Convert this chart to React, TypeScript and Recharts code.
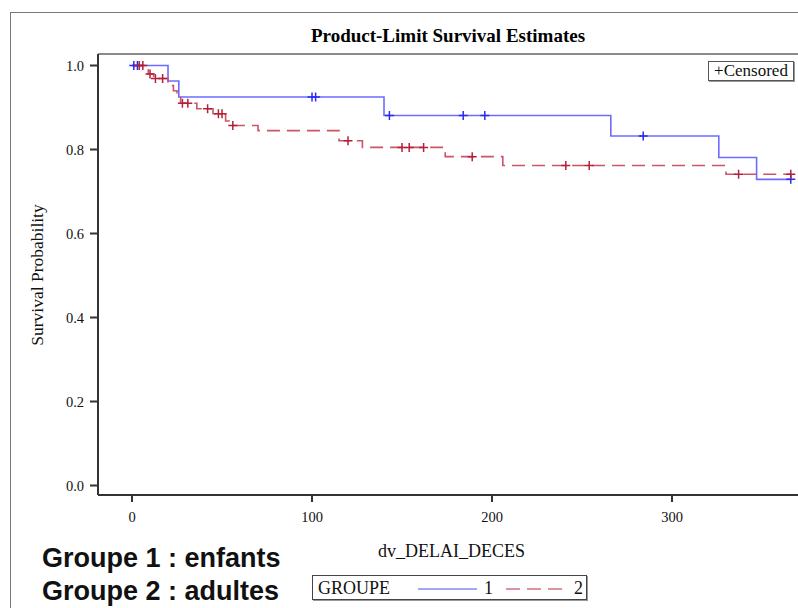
import React from 'react';
import { ComposedChart, Line, Scatter, XAxis, YAxis, ReferenceLine } from 'recharts';

// Kaplan-Meier steps: time (days) and survival at that time
const G1_TIMES = [0, 20, 26, 140, 266, 326, 347, 366];
const G1_SURV = [1.0, 0.963, 0.925, 0.881, 0.832, 0.781, 0.729, 0.729];
const G1_CENSORED = [1, 3, 100, 102, 143, 184, 196, 284, 366];

const G2_TIMES = [0, 7, 9, 12, 20, 23, 25, 27, 36, 45, 52, 54, 70, 115, 128, 174, 206, 330, 366];
const G2_SURV = [1.0, 0.99, 0.98, 0.969, 0.952, 0.94, 0.925, 0.91, 0.897, 0.885, 0.868, 0.857, 0.845, 0.821, 0.805, 0.783, 0.762, 0.741, 0.741];
const G2_CENSORED = [4, 6, 10, 13, 17, 28, 31, 42, 48, 50, 56, 120, 150, 154, 162, 189, 241, 254, 337, 366];

const X_TICKS = [0, 100, 200, 300];
const Y_TICKS = [0, 0.2, 0.4, 0.6, 0.8, 1.0];

const BLUE = '#6c6cff';
const BLUE_MARK = '#2b2bf0';
const RED = '#cc5566';
const RED_MARK = '#b3203a';
const SERIF = '"Liberation Serif", "DejaVu Serif", serif';

const X_MIN = -18.9;
const X_MAX = 374;
const Y_MIN = -0.0226;
const Y_MAX = 1.0274;

const steps = (times: number[], surv: number[]) => times.map((t, i) => ({ t, s: surv[i] }));

// survival value at a censoring time = value of the last step at or before it
const onCurve = (times: number[], surv: number[], cens: number[]) =>
  cens.map((t) => {
    let s = surv[0];
    times.forEach((tt, i) => {
      if (tt <= t) s = surv[i];
    });
    return { t, s };
  });

const g1 = steps(G1_TIMES, G1_SURV);
const g2 = steps(G2_TIMES, G2_SURV);
const g1c = onCurve(G1_TIMES, G1_SURV, G1_CENSORED);
const g2c = onCurve(G2_TIMES, G2_SURV, G2_CENSORED);

const plus = (color: string) => (props: any) => {
  const { cx, cy } = props;
  if (cx == null || cy == null) return <g />;
  return <path d={`M${cx - 4.5},${cy}h9M${cx},${cy - 4.5}v9`} stroke={color} strokeWidth={1.5} fill="none" />;
};

const tickStyle = { fontFamily: SERIF, fontSize: 14.5, fill: '#111' };

const App: React.FC = () => {
  return (
    <div style={{ position: 'absolute', left: 0, top: 0, width: 798, height: 608, overflow: 'hidden', background: '#fff' }}>
      <div style={{ position: 'absolute', left: 10, top: 12, width: 900, height: 700, border: '1px solid #777' }} />
      <div
        style={{
          position: 'absolute', left: 98, width: 700, top: 25, textAlign: 'center',
          fontFamily: SERIF, fontWeight: 'bold', fontSize: 19, lineHeight: '22px', color: '#000',
        }}
      >
        Product-Limit Survival Estimates
      </div>
      <div
        style={{
          position: 'absolute', left: 37, top: 275, transform: 'translate(-50%, -50%) rotate(-90deg)',
          fontFamily: SERIF, fontSize: 17.5, whiteSpace: 'nowrap', color: '#111',
        }}
      >
        Survival Probability
      </div>

      <div style={{ position: 'absolute', left: 0, top: 0 }}>
        <ComposedChart width={830} height={608} margin={{ top: 54, right: 24.8, left: 38, bottom: 53 }}>
          <XAxis
            type="number"
            dataKey="t"
            domain={[X_MIN, X_MAX]}
            ticks={X_TICKS}
            allowDataOverflow
            tick={tickStyle}
            tickSize={7}
            tickMargin={10}
            height={60}
            axisLine={{ stroke: '#333', strokeWidth: 2 }}
            tickLine={{ stroke: '#333', strokeWidth: 2 }}
            label={{ value: 'dv_DELAI_DECES', position: 'insideBottom', offset: -2, style: { fontFamily: SERIF, fontSize: 18, fill: '#111' } }}
          />
          <YAxis
            type="number"
            dataKey="s"
            domain={[Y_MIN, Y_MAX]}
            ticks={Y_TICKS}
            allowDataOverflow
            width={60}
            tick={tickStyle}
            tickSize={8}
            tickMargin={6}
            tickFormatter={(v: number) => v.toFixed(1)}
            axisLine={{ stroke: '#333', strokeWidth: 2 }}
            tickLine={{ stroke: '#333', strokeWidth: 2 }}
          />
          <ReferenceLine y={Y_MAX} stroke="#666" strokeWidth={1.5} />
          <Line data={g1} dataKey="s" type="stepAfter" stroke={BLUE} strokeWidth={1.6} dot={false} isAnimationActive={false} />
          <Line data={g2} dataKey="s" type="stepAfter" stroke={RED} strokeWidth={1.6} strokeDasharray="13 7" dot={false} isAnimationActive={false} />
          <Scatter data={g1c} dataKey="s" shape={plus(BLUE_MARK)} isAnimationActive={false} />
          <Scatter data={g2c} dataKey="s" shape={plus(RED_MARK)} isAnimationActive={false} />
        </ComposedChart>
      </div>

      <div
        style={{
          position: 'absolute', left: 708, top: 61, width: 84, height: 18, border: '1px solid #555',
          boxShadow: '1px 1px 0 #999', fontFamily: SERIF, fontSize: 17, lineHeight: '18px',
          textAlign: 'center', background: '#fff', color: '#111', whiteSpace: 'nowrap',
        }}
      >
        +Censored
      </div>

      <div
        style={{
          position: 'absolute', left: 312, top: 575, width: 273, height: 23, border: '1px solid #444',
          boxShadow: '1px 1px 0 #999', fontFamily: SERIF, fontSize: 18, lineHeight: '24px',
          background: '#fff', color: '#111',
        }}
      >
        <span style={{ position: 'absolute', left: 5 }}>GROUPE</span>
        <svg style={{ position: 'absolute', left: 0, top: 0 }} width={273} height={23}>
          <line x1={105} x2={164} y1={13} y2={13} stroke="#8888ee" strokeWidth={1.5} />
          <line x1={193} x2={249} y1={13} y2={13} stroke="#d07080" strokeWidth={1.5} strokeDasharray="14 7" />
        </svg>
        <span style={{ position: 'absolute', left: 171 }}>1</span>
        <span style={{ position: 'absolute', left: 261 }}>2</span>
      </div>

      <div
        style={{
          position: 'absolute', left: 42, top: 542, fontFamily: '"Liberation Sans", Arial, sans-serif',
          fontWeight: 'bold', fontSize: 27, lineHeight: '33px', color: '#111', whiteSpace: 'nowrap',
        }}
      >
        <div>Groupe 1 : enfants</div>
        <div>Groupe 2 : adultes</div>
      </div>
    </div>
  );
};

export default App;
